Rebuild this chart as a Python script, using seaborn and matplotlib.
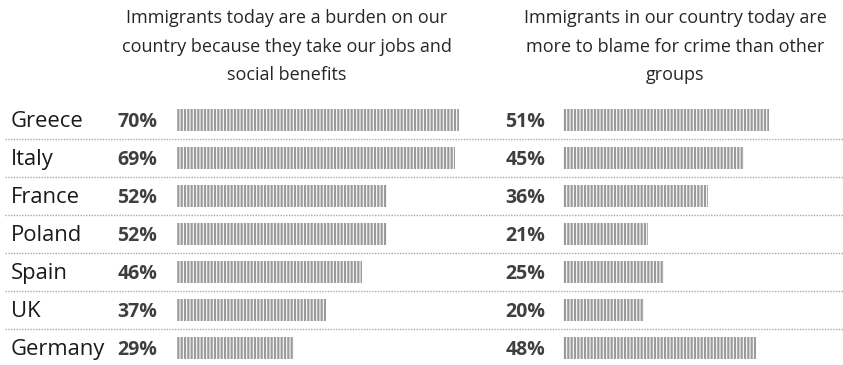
import matplotlib
matplotlib.use("Agg")
import matplotlib.pyplot as plt
import matplotlib.transforms as mtransforms
from matplotlib.lines import Line2D
import seaborn as sns
import pandas as pd

countries = ["Greece", "Italy", "France", "Poland", "Spain", "UK", "Germany"]
burden = [70, 69, 52, 52, 46, 37, 29]
crime = [51, 45, 36, 21, 25, 20, 48]
title_left = ["Immigrants today are a burden on our",
              "country because they take our jobs and",
              "social benefits"]
title_right = ["Immigrants in our country today are",
               "more to blame for crime than other",
               "groups"]

sns.set_style("white")
plt.rcParams["font.family"] = ["Open Sans", "DejaVu Sans"]
plt.rcParams["hatch.linewidth"] = 1.6

W, H = 843, 365
fig = plt.figure(figsize=(W / 100, H / 100), dpi=100)

PX_PER_PCT = 4.03
top_px, height_px = 101, 266

def make_ax(left_px, xmax):
    ax = fig.add_axes([left_px / W, (H - top_px - height_px) / H,
                       xmax * PX_PER_PCT / W, height_px / H])
    ax.set_facecolor("none")
    return ax

df = pd.DataFrame({"country": countries, "burden": burden, "crime": crime})

ax1 = make_ax(177, 70)
ax2 = make_ax(563, 51)

for ax, col, xmax, off in [(ax1, "burden", 70, -20), (ax2, "crime", 51, -18)]:
    sns.barplot(data=df, x=col, y="country", orient="h", ax=ax,
                color="white", edgecolor="#9a9a9a", linewidth=0,
                hatch="|||||", width=0.6)
    ax.set_xlim(0, xmax)
    ax.set_ylim(6.5, -0.5)
    ax.set_axis_off()
    for i, v in enumerate(df[col]):
        ax.annotate(f"{v}%", xy=(0, i), xytext=(off, -7),
                    textcoords="offset pixels", ha="right", va="baseline",
                    fontsize=14, fontweight="bold", color="#3f3f3f",
                    annotation_clip=False)

# Country labels and separators
tr = mtransforms.blended_transform_factory(fig.transFigure, ax1.transData)
for i, c in enumerate(countries):
    ax1.annotate(c, xy=(11 / W, i), xycoords=tr, xytext=(0, -7),
                 textcoords="offset pixels", ha="left", va="baseline",
                 fontsize=15.8, color="#1a1a1a", annotation_clip=False)
for i in range(len(countries) - 1):
    fig.add_artist(Line2D([5 / W, 1.0], [i + 0.5, i + 0.5], transform=tr,
                          color="#a8a8a8", linewidth=1.0,
                          linestyle=(0, (1, 1))))

# Titles
line_y = [18, 47, 75]
for lines, cx in [(title_left, 287), (title_right, 675)]:
    for t, y in zip(lines, line_y):
        fig.text(cx / W, 1 - y / H, t, ha="center", va="center",
                 fontsize=13, color="#262626")

fig.savefig("out.png", dpi=100)
